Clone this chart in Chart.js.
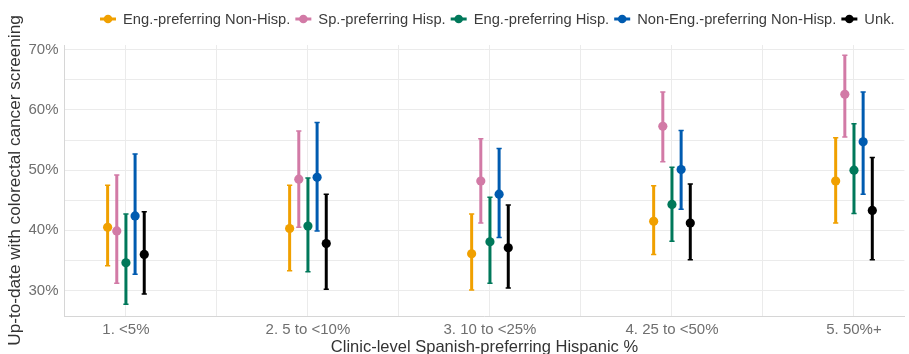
<!DOCTYPE html>
<html><head><meta charset="utf-8">
<script src="https://cdn.jsdelivr.net/npm/chart.js@4"></script>
<style>html,body{margin:0;padding:0;background:#fff;} canvas{display:block;}</style>
</head><body>
<canvas id="c" width="909" height="354"></canvas>
<script>
const categories = ["1. <5%", "2. 5 to <10%", "3. 10 to <25%", "4. 25 to <50%", "5. 50%+"];
const seriesNames = ["Eng.-preferring Non-Hisp.", "Sp.-preferring Hisp.", "Eng.-preferring Hisp.", "Non-Eng.-preferring Non-Hisp.", "Unk."];

const engNonHispEst = [40.5, 40.3, 36.1, 41.5, 48.2];
const engNonHispLo  = [34.1, 33.3, 30.1, 36.0, 41.2];
const engNonHispHi  = [47.5, 47.5, 42.7, 47.4, 55.4];

const spHispEst = [39.9, 48.5, 48.2, 57.3, 62.6];
const spHispLo  = [31.2, 40.5, 41.2, 51.4, 55.5];
const spHispHi  = [49.2, 56.5, 55.2, 63.0, 69.1];

const engHispEst = [34.6, 40.7, 38.1, 44.3, 50.0];
const engHispLo  = [27.7, 33.1, 31.2, 38.2, 42.8];
const engHispHi  = [42.7, 48.7, 45.5, 50.5, 57.7];

const nonEngNonHispEst = [42.4, 48.8, 46.0, 50.1, 54.7];
const nonEngNonHispLo  = [32.7, 39.9, 38.8, 43.5, 46.0];
const nonEngNonHispHi  = [52.7, 57.9, 53.6, 56.6, 63.0];

const unkEst = [36.0, 37.8, 37.1, 41.2, 43.3];
const unkLo  = [29.4, 30.2, 30.4, 35.1, 35.1];
const unkHi  = [43.1, 46.0, 44.2, 47.7, 52.1];

const yTickValues = [30, 40, 50, 60, 70];

const seriesData = [
  [engNonHispEst, engNonHispLo, engNonHispHi],
  [spHispEst, spHispLo, spHispHi],
  [engHispEst, engHispLo, engHispHi],
  [nonEngNonHispEst, nonEngNonHispLo, nonEngNonHispHi],
  [unkEst, unkLo, unkHi]
];
const colors = ['#F0A000', '#D27AA6', '#00785A', '#005BB0', '#000000'];
const DODGE = 0.0503;
const FONT = '"Liberation Sans", Arial, sans-serif';

const datasets = seriesNames.map((name, s) => ({
  label: name,
  data: categories.map((c, i) => ({
    x: i + 1 + (s - 2) * DODGE,
    y: seriesData[s][0][i],
    lo: seriesData[s][1][i],
    hi: seriesData[s][2][i]
  })),
  backgroundColor: colors[s],
  borderColor: colors[s],
  borderWidth: 0,
  pointRadius: 4.6,
  pointHoverRadius: 4.6,
  showLine: false
}));

const errorBars = {
  id: 'errorBars',
  beforeDatasetsDraw(chart) {
    const { ctx, scales: { x, y } } = chart;
    ctx.save();
    chart.data.datasets.forEach(ds => {
      ctx.strokeStyle = ds.borderColor;
      ds.data.forEach(p => {
        const px = x.getPixelForValue(p.x);
        const y1 = y.getPixelForValue(p.lo), y2 = y.getPixelForValue(p.hi);
        ctx.lineWidth = 3;
        ctx.beginPath(); ctx.moveTo(px, y1); ctx.lineTo(px, y2); ctx.stroke();
        ctx.lineWidth = 1.5;
        ctx.beginPath();
        ctx.moveTo(px - 2.6, y1); ctx.lineTo(px + 2.6, y1);
        ctx.moveTo(px - 2.6, y2); ctx.lineTo(px + 2.6, y2);
        ctx.stroke();
      });
    });
    ctx.restore();
  }
};

const topLegend = {
  id: 'topLegend',
  afterDraw(chart) {
    const ctx = chart.ctx;
    ctx.save();
    ctx.font = '14.7px ' + FONT;
    ctx.textBaseline = 'middle';
    let x = 100; const yc = 19;
    chart.data.datasets.forEach(ds => {
      ctx.strokeStyle = ds.borderColor; ctx.fillStyle = ds.borderColor;
      ctx.lineWidth = 3;
      ctx.beginPath(); ctx.moveTo(x, yc); ctx.lineTo(x + 16, yc); ctx.stroke();
      ctx.beginPath(); ctx.arc(x + 8, yc, 4.3, 0, Math.PI * 2); ctx.fill();
      ctx.fillStyle = '#3c3c3c';
      ctx.fillText(ds.label, x + 23, yc + 1);
      x += 23 + ctx.measureText(ds.label).width + 5;
    });
    ctx.restore();
  }
};

new Chart(document.getElementById('c'), {
  type: 'scatter',
  data: { datasets },
  plugins: [errorBars, topLegend],
  options: {
    responsive: false,
    devicePixelRatio: 1,
    animation: false,
    layout: { padding: { top: 45, left: 0, right: 0, bottom: 0 } },
    plugins: { legend: { display: false }, tooltip: { enabled: false }, title: { display: false } },
    scales: {
      x: {
        type: 'linear',
        min: 0.6625,
        max: 5.277,
        afterFit: s => { s.height = 38; },
        ticks: {
          stepSize: 0.5,
          includeBounds: false,
          autoSkip: false,
          maxRotation: 0,
          padding: 5,
          color: '#6f6f6f',
          font: { family: FONT, size: 15 },
          callback: v => (Number.isInteger(v) && v >= 1 && v <= categories.length) ? categories[v - 1] : ''
        },
        grid: { color: '#EBEBEB', lineWidth: 1, drawTicks: false },
        border: { display: true, color: '#D6D6D6', width: 1 },
        title: { display: true, text: 'Clinic-level Spanish-preferring Hispanic %', color: '#333333', font: { family: FONT, size: 16.5 }, padding: { top: 0, bottom: -3 } }
      },
      y: {
        min: 25.76,
        max: 70.8,
        afterFit: s => { s.width = 64.5; },
        ticks: {
          stepSize: 5,
          includeBounds: false,
          padding: 6,
          color: '#6f6f6f',
          font: { family: FONT, size: 15 },
          callback: v => yTickValues.includes(v) ? v + '%' : ''
        },
        grid: { color: '#EBEBEB', lineWidth: 1, drawTicks: false },
        border: { display: true, color: '#D6D6D6', width: 1 },
        title: { display: true, text: 'Up-to-date with colorectal cancer screening', color: '#333333', font: { family: FONT, size: 17.2 }, padding: { top: 5, bottom: 0 } }
      }
    }
  }
});
</script>
</body></html>
